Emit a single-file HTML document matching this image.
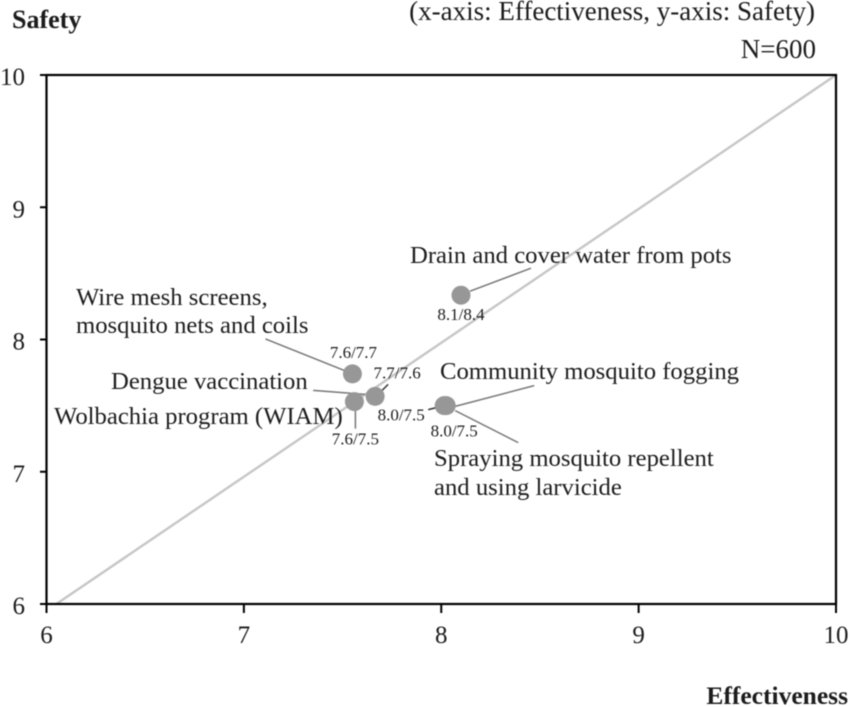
<!DOCTYPE html>
<html lang="en">
<head>
<meta charset="utf-8">
<title>Effectiveness vs Safety</title>
<style>
html,body{margin:0;padding:0;background:#fff;width:851px;height:707px;overflow:hidden}
svg{display:block;filter:blur(.4px)}
text{font-family:"Liberation Serif",serif;fill:#1c1c1c}
</style>
</head>
<body>
<svg id="chart" width="851" height="707" viewBox="0 0 851 707" xmlns="http://www.w3.org/2000/svg">
  <text x="12" y="28" font-size="26" font-weight="bold">Safety</text>
  <text x="848" y="704" font-size="25.5" font-weight="bold" text-anchor="end">Effectiveness</text>
  <text x="815" y="20" font-size="27" text-anchor="end">(x-axis: Effectiveness, y-axis: Safety)</text>
  <text x="816" y="58" font-size="27" text-anchor="end">N=600</text>
</svg>
<script>
const xTicks = [6, 7, 8, 9, 10];
const yTicks = [6, 7, 8, 9, 10];
const diagonalX = [6.05, 10];
const diagonalY = [6, 10];
const measures = ['Drain and cover water from pots', 'Wire mesh screens, mosquito nets and coils', 'Dengue vaccination', 'Wolbachia program (WIAM)', 'Community mosquito fogging', 'Spraying mosquito repellent and using larvicide'];
const effectiveness = [8.1, 7.55, 7.665, 7.56, 8.025, 8.015];
const safety = [8.335, 7.74, 7.57, 7.53, 7.5, 7.5];
const printedValues = ['8.1/8.4', '7.6/7.7', '7.7/7.6', '7.6/7.5', '8.0/7.5', '8.0/7.5'];

const svg = document.getElementById('chart');
const NS = 'http://www.w3.org/2000/svg';
const sx = v => 46.5 + (v - 6) * (836 - 46.5) / 4;
const sy = v => 604 - (v - 6) * (604 - 75) / 4;

function mk(tag, attrs, text) {
  const el = document.createElementNS(NS, tag);
  for (const k in attrs) el.setAttribute(k, attrs[k]);
  if (text !== undefined) el.textContent = text;
  svg.appendChild(el);
  return el;
}

// diagonal reference line
const diag = mk('line', {x1: sx(diagonalX[0]), y1: sy(diagonalY[0]), x2: sx(diagonalX[1]), y2: sy(diagonalY[1]), stroke: '#c6c6c6', 'stroke-width': 2.4});



// plot frame
const frame = mk('rect', {x: sx(6), y: sy(10), width: sx(10) - sx(6), height: sy(6) - sy(10), fill: 'none', stroke: '#000', 'stroke-width': 2.2});



// ticks and tick labels
xTicks.forEach(t => {
  const tick = mk('line', {x1: sx(t), y1: 604, x2: sx(t), y2: 613, stroke: '#000', 'stroke-width': 2});
  
  
  const lab = mk('text', {x: sx(t), y: 643, 'font-size': 25, 'text-anchor': 'middle'}, String(t));
  
  
});
yTicks.forEach(t => {
  const tick = mk('line', {x1: 40, y1: sy(t), x2: 46.5, y2: sy(t), stroke: '#000', 'stroke-width': 2});
  
  
  const lab = mk('text', {x: 25, y: sy(t) + 10, 'font-size': 25, 'text-anchor': 'end'}, String(t));
  
  
});

// leader line from a point, offsets relative to that point
function leader(i, dx1, dy1, dx2, dy2, colour) {
  const px = sx(effectiveness[i]);
  const py = sy(safety[i]);
  const l = mk('line', {x1: px + dx1, y1: py + dy1, x2: px + dx2, y2: py + dy2, stroke: colour || '#777', 'stroke-width': 1.5});
  
  
}
leader(0, 9, -4, 70, -27);
leader(1, -7, -3, -87, -35);
leader(2, -10, -2, -62, -6);
leader(3, 1, 9, 1, 27);
leader(4, 8, 1, 88, -20);
leader(5, 11, 5, 74, 37);
leader(2, 7, -6, 13, -12, '#333');
leader(5, -4, 1, -16, 4, '#333');

// data points
effectiveness.forEach((v, i) => {
  const c = mk('circle', {cx: sx(v), cy: sy(safety[i]), r: 9.5, fill: '#979797'});
  
  
});

// printed values, offsets relative to each point
function valueLabel(i, dx, dy) {
  const t = mk('text', {x: sx(effectiveness[i]) + dx, y: sy(safety[i]) + dy, 'font-size': 17, 'text-anchor': 'middle'}, printedValues[i]);
  
  
}
valueLabel(0, 0, 25);
valueLabel(1, 1, -16);
valueLabel(2, 22, -18);
valueLabel(3, 1, 43);
valueLabel(4, -45, 15);
valueLabel(5, 10, 31);

// measure names
function nameLabel(x, y, s) {
  const t = mk('text', {x: x, y: y, 'font-size': 24.7}, s);
  
  
}
nameLabel(410, 263, measures[0]);
nameLabel(76, 305, 'Wire mesh screens,');
nameLabel(76, 333, 'mosquito nets and coils');
nameLabel(111, 389, measures[2]);
nameLabel(54, 424, measures[3]);
nameLabel(440, 379, measures[4]);
nameLabel(434, 466, 'Spraying mosquito repellent');
nameLabel(434, 495, 'and using larvicide');
</script>
</body>
</html>
